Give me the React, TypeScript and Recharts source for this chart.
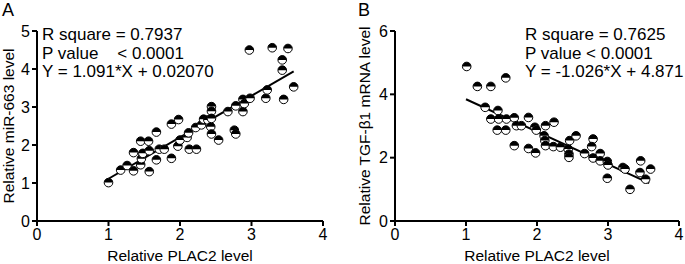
import { ScatterChart, Scatter, XAxis, YAxis, ReferenceLine, Label } from "recharts"

// Panel A: PLAC2 vs miR-663
const plac2A = [
  1.0, 1.17, 1.26, 1.35, 1.35, 1.45, 1.46, 1.45, 1.48, 1.56, 1.57, 1.57, 1.67, 1.67, 1.71, 1.78, 1.88, 1.88,
  1.98, 1.97, 2.0, 2.1, 2.12, 2.13, 2.23, 2.22, 2.3, 2.33, 2.39, 2.43, 2.44, 2.44, 2.44, 2.54, 2.67, 2.76,
  2.78, 2.78, 2.88, 2.88, 2.9, 2.97, 2.98, 3.2, 3.22, 3.29, 3.43, 3.43, 3.45, 3.51, 3.59, 2.44,
]
const mir663 = [
  1.01, 1.34, 1.46, 1.32, 1.8, 1.48, 1.64, 2.1, 1.78, 2.1, 1.3, 1.85, 2.34, 1.61, 1.89, 1.89, 2.55, 1.65,
  2.67, 1.97, 2.13, 2.2, 2.32, 1.89, 1.89, 2.46, 2.53, 2.68, 2.66, 2.48, 3.01, 2.89, 2.29, 2.13, 2.88, 2.39,
  2.29, 3.03, 3.2, 2.88, 3.09, 4.5, 3.23, 3.23, 3.45, 4.56, 4.24, 3.97, 3.2, 4.54, 3.53, 2.7,
]

// Panel B: PLAC2 vs TGF-β1
const plac2B = [
  1.01, 1.16, 1.35, 1.56, 1.27, 1.45, 1.35, 1.46, 1.57, 1.68, 1.44, 1.56, 1.88, 1.71, 1.78, 1.97, 1.99, 2.12,
  2.24, 2.1, 2.11, 2.12, 1.68, 1.88, 1.98, 2.23, 2.33, 2.44, 2.45, 2.45, 2.46, 2.55, 2.67, 2.79, 2.77, 2.79,
  2.89, 2.89, 2.99, 3.0, 2.99, 3.21, 3.24, 3.31, 3.46, 3.45, 3.53, 3.6,
]
const tgfb1 = [
  4.88, 4.25, 4.25, 4.52, 3.59, 3.49, 3.22, 3.22, 3.22, 3.26, 2.87, 2.87, 3.27, 3.01, 3.01, 2.96, 2.87, 3.01,
  3.12, 2.69, 2.54, 2.38, 2.38, 2.29, 2.15, 2.35, 2.33, 2.27, 2.11, 2.01, 2.54, 2.69, 2.13, 2.59, 2.35, 1.99,
  2.13, 1.9, 1.88, 1.77, 1.35, 1.69, 1.64, 1.0, 1.9, 1.53, 1.32, 1.64,
]

const xTicks = [0, 1, 2, 3, 4]
const yTicksA = [0, 1, 2, 3, 4, 5]
const yTicksB = [0, 2, 4, 6]

// linear fits as printed on the figure
const fitA = { slope: 1.091, intercept: 0.0207, from: 1.0, to: 3.59 }
const fitB = { slope: -1.026, intercept: 4.871, from: 1.0, to: 3.58 }

const textA = ["R square = 0.7937", "P value    < 0.0001", "Y = 1.091*X + 0.02070"]
const textB = ["R square = 0.7625", "P value < 0.0001", "Y = -1.026*X + 4.871"]

const FONT = "'Liberation Sans', Arial, sans-serif"

const toPoints = (xs: number[], ys: number[]) => xs.map((x, i) => ({ x, y: ys[i] }))

const segment = (f: typeof fitA) => [
  { x: f.from, y: f.slope * f.from + f.intercept },
  { x: f.to, y: f.slope * f.to + f.intercept },
]

// half filled marker: black top, white bottom
const HalfDot = (props: any) => {
  const { cx, cy } = props
  if (cx == null || cy == null) return <g />
  const r = 4.3
  return (
    <g>
      <circle cx={cx} cy={cy} r={r} fill="#fff" stroke="#000" strokeWidth={1} />
      <path d={`M${cx - r},${cy} A${r},${r} 0 0 1 ${cx + r},${cy} Z`} fill="#000" />
    </g>
  )
}

const axisStyle = {
  axisLine: { stroke: "#000", strokeWidth: 2 },
  tickLine: { stroke: "#000", strokeWidth: 2 },
  tickSize: 5,
  tick: { fill: "#000", fontSize: 16 },
}

interface PanelProps {
  width: number
  xs: number[]
  ys: number[]
  yTicks: number[]
  yTitle: string
  yAxisWidth: number
  yTitleDx: number
  right: number
  fit: typeof fitA
}

const Panel = ({ width, xs, ys, yTicks, yTitle, yAxisWidth, yTitleDx, right, fit }: PanelProps) => (
  <ScatterChart width={width} height={264} margin={{ top: 31, right, bottom: 0, left: 0 }}>
    <XAxis
      type="number"
      dataKey="x"
      domain={[0, 4]}
      ticks={xTicks}
      height={43}
      tickMargin={3}
      {...axisStyle}
    >
      <Label value="Relative PLAC2 level" position="insideBottom" offset={3} fill="#000" fontSize={15.5} />
    </XAxis>
    <YAxis
      type="number"
      dataKey="y"
      domain={[0, yTicks[yTicks.length - 1]]}
      ticks={yTicks}
      width={yAxisWidth}
      tickMargin={2}
      {...axisStyle}
    >
      <Label value={yTitle} angle={-90} position="center" dx={yTitleDx} fill="#000" fontSize={15.5} />
    </YAxis>
    <ReferenceLine segment={segment(fit)} stroke="#000" strokeWidth={2} />
    <Scatter data={toPoints(xs, ys)} shape={HalfDot} isAnimationActive={false} />
  </ScatterChart>
)

const Notes = ({ lines, left }: { lines: string[]; left: number }) => (
  <div style={{ position: "absolute", left, top: 26, fontSize: 17, lineHeight: "18.5px", whiteSpace: "pre" }}>
    {lines.map((l) => (
      <div key={l}>{l}</div>
    ))}
  </div>
)

const panelLetter = { position: "absolute" as const, top: 0, fontSize: 18, lineHeight: "20px" }

export default function App() {
  return (
    <div
      style={{
        position: "absolute",
        left: 0,
        top: 0,
        width: 685,
        height: 264,
        background: "#fff",
        fontFamily: FONT,
        color: "#000",
      }}
    >
      <div style={{ position: "absolute", left: 0, top: 0 }}>
        <Panel
          width={345}
          xs={plac2A}
          ys={mir663}
          yTicks={yTicksA}
          yTitle="Relative miR-663 level"
          yAxisWidth={37}
          yTitleDx={-10}
          right={22}
          fit={fitA}
        />
      </div>
      <div style={{ position: "absolute", left: 345, top: 0 }}>
        <Panel
          width={340}
          xs={plac2B}
          ys={tgfb1}
          yTicks={yTicksB}
          yTitle="Relative TGF-β1 mRNA level"
          yAxisWidth={50}
          yTitleDx={-6}
          right={6}
          fit={fitB}
        />
      </div>
      <Notes lines={textA} left={42} />
      <Notes lines={textB} left={525} />
      <div style={{ ...panelLetter, left: 2 }}>A</div>
      <div style={{ ...panelLetter, left: 358 }}>B</div>
    </div>
  )
}
